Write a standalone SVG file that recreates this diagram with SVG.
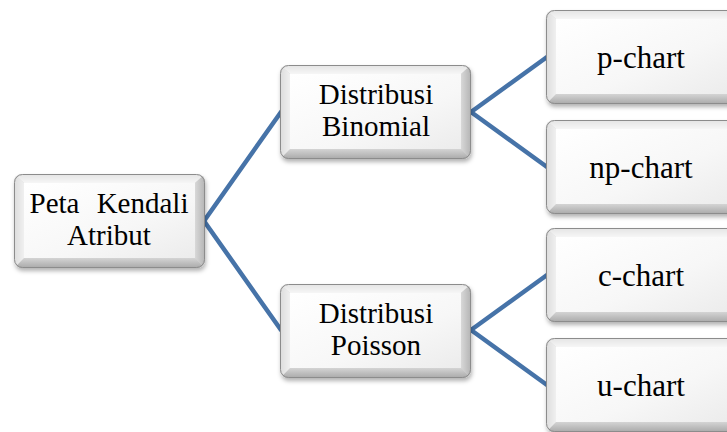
<svg xmlns="http://www.w3.org/2000/svg" xmlns:xlink="http://www.w3.org/1999/xlink" width="727" height="432" viewBox="0 0 727 432">
  <style>
    .lbl { font-family: "Liberation Serif", "Times New Roman", serif; font-size: 31px; fill: #000; text-anchor: middle; white-space: pre; }
    .two { font-size: 29px; }
    .conn { stroke: #4673a8; stroke-width: 4.5; fill: none; stroke-linecap: round; stroke-linejoin: round; }
  </style>
  <defs>
    <linearGradient id="face" x1="0" y1="0" x2="1" y2="1">
      <stop offset="0" stop-color="#ffffff"/>
      <stop offset="0.6" stop-color="#f7f7f7"/>
      <stop offset="1" stop-color="#ececec"/>
    </linearGradient>
    <linearGradient id="topB" x1="0" y1="0" x2="0" y2="1">
      <stop offset="0" stop-color="#e4e4e4"/>
      <stop offset="1" stop-color="#f6f6f6"/>
    </linearGradient>
    <linearGradient id="botB" x1="0" y1="0" x2="0" y2="1">
      <stop offset="0" stop-color="#d4d4d4"/>
      <stop offset="1" stop-color="#a9a9a9"/>
    </linearGradient>
    <linearGradient id="leftB" x1="0" y1="0" x2="1" y2="0">
      <stop offset="0" stop-color="#dcdcdc"/>
      <stop offset="1" stop-color="#f0f0f0"/>
    </linearGradient>
    <linearGradient id="rightB" x1="0" y1="0" x2="1" y2="0">
      <stop offset="0" stop-color="#d8d8d8"/>
      <stop offset="1" stop-color="#b4b4b4"/>
    </linearGradient>
    <filter id="shadow" x="-10%" y="-10%" width="120%" height="125%">
      <feDropShadow dx="1" dy="3" stdDeviation="2" flood-color="#000" flood-opacity="0.3"/>
    </filter>
    <clipPath id="btnClip">
      <rect x="0" y="0" width="191" height="94" rx="8"/>
    </clipPath>
    <symbol id="btn" overflow="visible">
      <rect x="0" y="0" width="191" height="94" rx="8" fill="#cfcfcf" filter="url(#shadow)"/>
      <g clip-path="url(#btnClip)">
        <polygon points="0,0 191,0 181,9 10,9" fill="url(#topB)"/>
        <polygon points="0,94 191,94 181,84 10,84" fill="url(#botB)"/>
        <polygon points="0,0 10,9 10,84 0,94" fill="url(#leftB)"/>
        <polygon points="191,0 181,9 181,84 191,94" fill="url(#rightB)"/>
        <rect x="10" y="9" width="171" height="75" fill="url(#face)"/>
      </g>
      <rect x="0.5" y="0.5" width="190" height="93" rx="8" fill="none" stroke="#8c8c8c" stroke-width="1"/>
    </symbol>
  </defs>

  <g id="connectors">
    <line class="conn" x1="204" y1="221" x2="281" y2="112"/>
    <line class="conn" x1="204" y1="221" x2="281" y2="330"/>
    <line class="conn" x1="471" y1="112" x2="547" y2="57"/>
    <line class="conn" x1="471" y1="112" x2="547" y2="167"/>
    <line class="conn" x1="471" y1="330" x2="547" y2="275"/>
    <line class="conn" x1="471" y1="330" x2="547" y2="385"/>
  </g>

  <g id="node-root" transform="translate(14,174)">
    <use xlink:href="#btn"/>
    <text class="lbl two" x="95" y="39" word-spacing="10">Peta Kendali</text>
    <text class="lbl two" x="95" y="71">Atribut</text>
  </g>

  <g id="node-binomial" transform="translate(280,65)">
    <use xlink:href="#btn"/>
    <text class="lbl two" x="96" y="39">Distribusi</text>
    <text class="lbl two" x="96" y="71">Binomial</text>
  </g>

  <g id="node-poisson" transform="translate(280,284)">
    <use xlink:href="#btn"/>
    <text class="lbl two" x="96" y="39">Distribusi</text>
    <text class="lbl two" x="96" y="71">Poisson</text>
  </g>

  <g id="node-pchart" transform="translate(546,10)">
    <use xlink:href="#btn"/>
    <text class="lbl" x="95" y="58">p-chart</text>
  </g>

  <g id="node-npchart" transform="translate(546,120)">
    <use xlink:href="#btn"/>
    <text class="lbl" x="95" y="58">np-chart</text>
  </g>

  <g id="node-cchart" transform="translate(546,228)">
    <use xlink:href="#btn"/>
    <text class="lbl" x="95" y="58">c-chart</text>
  </g>

  <g id="node-uchart" transform="translate(546,338)">
    <use xlink:href="#btn"/>
    <text class="lbl" x="95" y="58">u-chart</text>
  </g>
</svg>
